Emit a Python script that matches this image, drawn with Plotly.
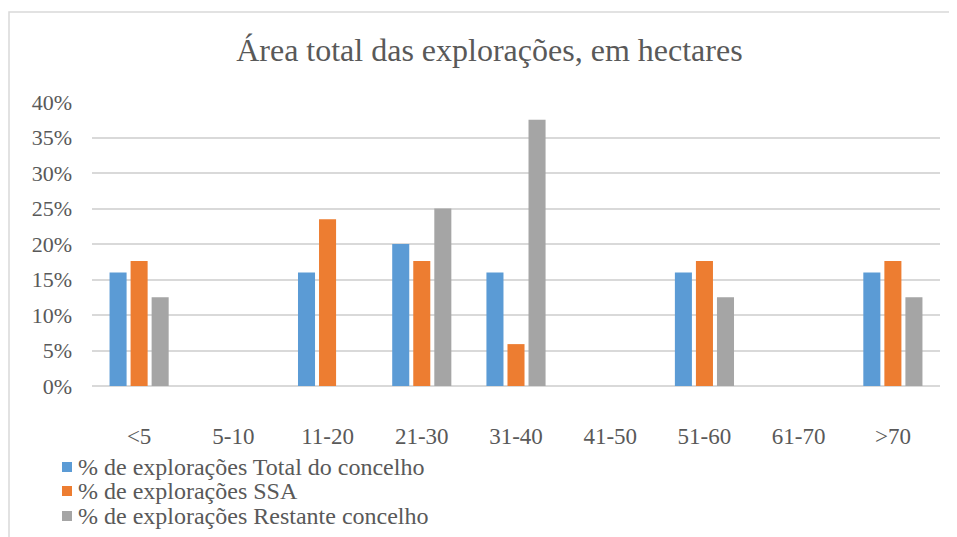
import plotly.graph_objects as go

# dados
categorias = ["<5", "5-10", "11-20", "21-30", "31-40", "41-50", "51-60", "61-70", ">70"]
total_concelho = [0.16, 0, 0.16, 0.20, 0.16, 0, 0.16, 0, 0.16]
ssa = [0.176, 0, 0.235, 0.176, 0.059, 0, 0.176, 0, 0.176]
restante = [0.125, 0, 0, 0.25, 0.375, 0, 0.125, 0, 0.125]

series = [
    ("% de explorações Total do concelho", total_concelho, "#5B9BD5"),
    ("% de explorações SSA", ssa, "#ED7D31"),
    ("% de explorações Restante concelho", restante, "#A5A5A5"),
]

FONT = "Liberation Serif, Times New Roman, serif"
COR_TEXTO = "#595959"

# a pagina tem 8px de margem no body: coordenadas de ecra -> figura
OFF = 8
# area do grafico no ecra: x 92-940, y 102-386
L, T = 92 - OFF, 102 - OFF
R, B = 957 - (940 - OFF), 537 - (386 - OFF)
PW, PH = 957 - L - R, 537 - T - B


def px_x(p):
    return (p - OFF - L) / PW


def px_y(p):
    return (537 - B - (p - OFF)) / PH


fig = go.Figure()
for nome, valores, cor in series:
    fig.add_trace(go.Bar(
        x=categorias, y=valores, name=nome,
        marker=dict(color=cor, line=dict(width=0)),
        showlegend=False,
    ))

# moldura + legenda manual (tres linhas, simbolo quadrado)
shapes = [dict(type="rect", xref="paper", yref="paper",
               x0=px_x(9), x1=1.2, y0=-0.9, y1=px_y(12),
               line=dict(color="#d9d9d9", width=1.5), fillcolor="rgba(0,0,0,0)")]
annotations = []
linhas_y = [467, 491, 516]
for (nome, _, cor), ly in zip(series, linhas_y):
    shapes.append(dict(type="rect", xref="paper", yref="paper",
                       x0=px_x(62), x1=px_x(72), y0=px_y(ly + 5), y1=px_y(ly - 5),
                       line=dict(width=0), fillcolor=cor))
    annotations.append(dict(text=nome, xref="paper", yref="paper",
                            x=px_x(76), y=px_y(ly), xanchor="left", yanchor="middle",
                            showarrow=False, font=dict(size=24, color=COR_TEXTO)))

fig.update_layout(
    width=957, height=537,
    margin=dict(l=L, r=R, t=T, b=B, autoexpand=False),
    paper_bgcolor="white", plot_bgcolor="white",
    font=dict(family=FONT, size=22, color=COR_TEXTO),
    title=dict(text="Área total das explorações, em hectares",
               x=0.503, xanchor="center", y=0.922, yanchor="middle",
               font=dict(size=32, color=COR_TEXTO)),
    barmode="group", bargap=0.33, bargroupgap=0.19,
    showlegend=False,
    shapes=shapes,
    annotations=annotations,
)
fig.update_yaxes(range=[0, 0.40], dtick=0.05, tickformat=".0%",
                 gridcolor="#d9d9d9", gridwidth=1.5, zeroline=True,
                 zerolinecolor="#d9d9d9", zerolinewidth=1.5,
                 showline=False, ticks="", ticklen=0, ticklabelstandoff=19,
                 tickfont=dict(size=22))
fig.update_xaxes(showgrid=False, showline=False, ticks="",
                 tickfont=dict(size=23), ticklabelstandoff=34)

fig.write_html("out.html")
